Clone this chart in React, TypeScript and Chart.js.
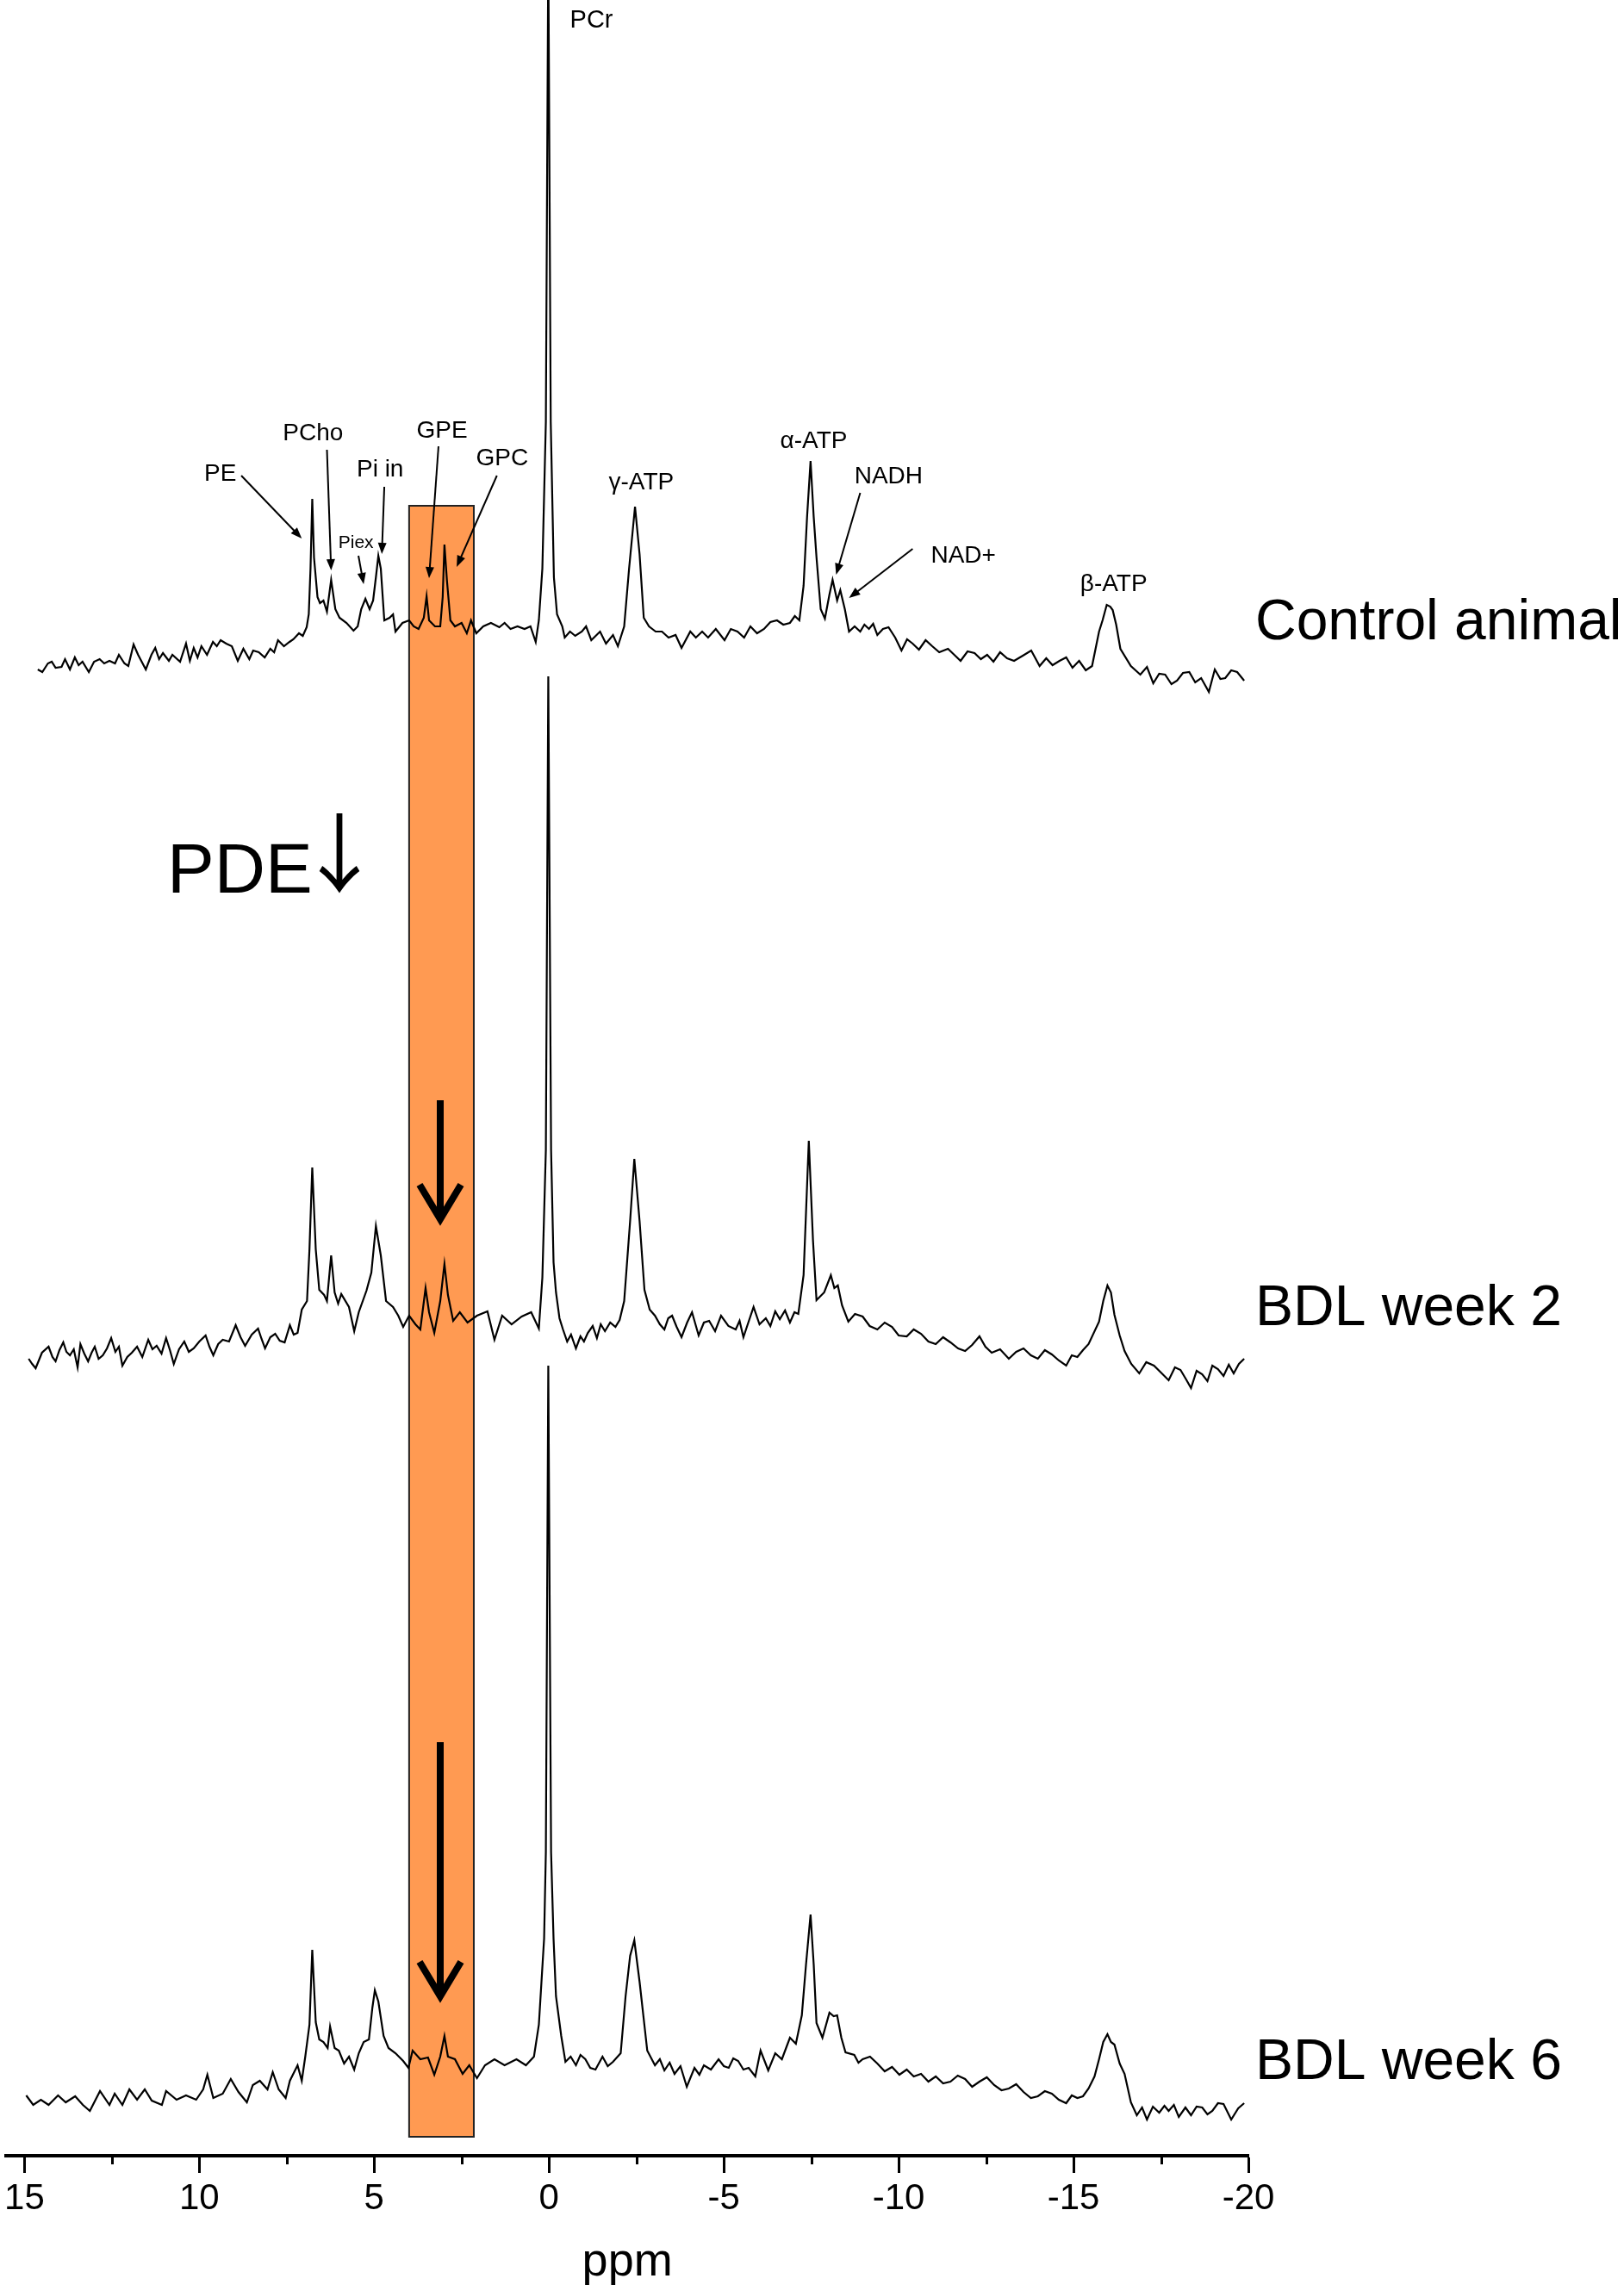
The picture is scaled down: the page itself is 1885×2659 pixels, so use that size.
import { useEffect, useRef } from 'react';
import { Chart, registerables } from 'chart.js';

Chart.register(...registerables);

const FONT = "'Liberation Sans', Arial, Helvetica, sans-serif";
const ARROW_FONT = "'Noto Sans CJK SC', 'Noto Sans CJK JP', 'DejaVu Sans', sans-serif";

// ---------- data: [chemical shift (ppm), intensity (a.u.)] ----------
const CONTROL: [number, number][] = [
  [14.62, 1.3], [14.49, 1.0], [14.33, 2.0], [14.22, 2.2], [14.11, 1.5], [13.94, 1.6], [13.84, 2.5], [13.70, 1.3],
  [13.56, 2.7], [13.45, 1.8], [13.34, 2.2], [13.16, 1.0], [13.01, 2.2], [12.85, 2.5], [12.72, 2.0], [12.57, 2.3],
  [12.41, 2.0], [12.30, 3.0], [12.14, 2.0], [12.03, 1.7], [11.88, 4.2], [11.75, 3.0], [11.53, 1.3], [11.37, 3.0],
  [11.26, 3.8], [11.15, 2.5], [11.04, 3.2], [10.87, 2.3], [10.77, 3.0], [10.55, 2.2], [10.38, 4.3], [10.27, 2.3],
  [10.16, 3.8], [10.05, 2.7], [9.94, 4.0], [9.78, 3.0], [9.61, 4.5], [9.50, 4.0], [9.39, 4.7], [9.23, 4.3],
  [9.07, 4.0], [8.90, 2.3], [8.74, 3.7], [8.57, 2.5], [8.46, 3.5], [8.30, 3.3], [8.13, 2.7], [7.97, 3.7],
  [7.86, 3.3], [7.75, 4.7], [7.58, 4.0], [7.42, 4.5], [7.31, 4.8], [7.15, 5.5], [7.04, 5.2], [6.93, 6.2],
  [6.87, 7.7], [6.82, 13.0], [6.77, 21.1], [6.72, 14.3], [6.62, 9.7], [6.55, 9.0], [6.45, 9.3], [6.35, 8.0],
  [6.23, 11.7], [6.11, 8.3], [5.99, 7.3], [5.79, 6.7], [5.59, 5.8], [5.47, 6.3], [5.37, 8.3], [5.25, 9.5],
  [5.13, 8.3], [5.03, 9.3], [4.95, 12.0], [4.88, 14.5], [4.81, 13.0], [4.71, 7.0], [4.56, 7.3], [4.46, 7.7],
  [4.39, 5.7], [4.19, 6.7], [4.00, 7.0], [3.87, 6.3], [3.73, 6.0], [3.58, 7.3], [3.50, 9.8], [3.43, 7.0],
  [3.26, 6.3], [3.11, 6.3], [3.04, 9.7], [2.99, 15.8], [2.92, 11.7], [2.82, 7.0], [2.69, 6.3], [2.50, 6.7],
  [2.35, 5.5], [2.23, 7.0], [2.08, 5.5], [1.88, 6.3], [1.66, 6.7], [1.42, 6.2], [1.27, 6.7], [1.10, 6.0],
  [0.90, 6.3], [0.70, 6.0], [0.53, 6.3], [0.38, 4.5], [0.29, 7.0], [0.19, 13.0], [0.09, 30.0], [0.02, 85.0],
  [-0.05, 30.0], [-0.14, 12.0], [-0.23, 7.7], [-0.38, 6.3], [-0.45, 5.0], [-0.60, 5.7], [-0.75, 5.2], [-0.94, 5.7],
  [-1.06, 6.3], [-1.21, 4.7], [-1.46, 5.7], [-1.63, 4.3], [-1.83, 5.3], [-1.97, 4.0], [-2.15, 6.3], [-2.29, 13.0],
  [-2.46, 20.2], [-2.59, 14.7], [-2.71, 7.3], [-2.86, 6.3], [-3.05, 5.7], [-3.23, 5.7], [-3.42, 5.0], [-3.62, 5.3],
  [-3.79, 3.8], [-4.04, 5.7], [-4.20, 5.0], [-4.38, 5.7], [-4.55, 5.0], [-4.77, 6.0], [-5.02, 4.7], [-5.20, 6.0],
  [-5.39, 5.7], [-5.58, 5.0], [-5.76, 6.3], [-5.95, 5.5], [-6.15, 6.0], [-6.33, 6.8], [-6.52, 7.0], [-6.70, 6.5],
  [-6.89, 6.7], [-7.03, 7.5], [-7.16, 7.0], [-7.28, 11.0], [-7.38, 19.0], [-7.48, 25.5], [-7.57, 19.0], [-7.65, 14.3],
  [-7.77, 8.3], [-7.89, 7.2], [-8.02, 10.0], [-8.11, 11.7], [-8.24, 9.3], [-8.33, 10.5], [-8.46, 8.3], [-8.58, 5.7],
  [-8.74, 6.3], [-8.90, 5.7], [-9.02, 6.5], [-9.15, 6.0], [-9.27, 6.6], [-9.39, 5.3], [-9.55, 6.0], [-9.71, 6.2],
  [-9.90, 5.0], [-10.08, 3.5], [-10.24, 4.8], [-10.40, 4.3], [-10.58, 3.6], [-10.77, 4.7], [-10.96, 4.0], [-11.16, 3.3],
  [-11.41, 3.7], [-11.59, 3.0], [-11.77, 2.3], [-11.97, 3.4], [-12.17, 3.2], [-12.35, 2.5], [-12.53, 3.0], [-12.71, 2.2],
  [-12.90, 3.3], [-13.10, 2.6], [-13.30, 2.3], [-13.55, 2.9], [-13.79, 3.5], [-14.03, 1.7], [-14.22, 2.6], [-14.40, 1.8],
  [-14.60, 2.3], [-14.79, 2.7], [-14.97, 1.5], [-15.16, 2.3], [-15.35, 1.2], [-15.53, 1.7], [-15.73, 5.7], [-15.83, 7.0],
  [-15.95, 8.8], [-16.05, 8.6], [-16.12, 8.2], [-16.22, 6.5], [-16.34, 3.7], [-16.64, 1.7], [-16.91, 0.7], [-17.10, 1.6],
  [-17.28, -0.3], [-17.45, 0.8], [-17.62, 0.7], [-17.80, -0.4], [-17.96, 0.0], [-18.13, 0.9], [-18.31, 1.0], [-18.48, -0.2],
  [-18.65, 0.3], [-18.87, -1.3], [-19.04, 1.3], [-19.20, 0.2], [-19.34, 0.3], [-19.51, 1.2], [-19.68, 1.0], [-19.88, 0.0],
];

const BDL_WEEK2: [number, number][] = [
  [14.88, 0.8], [14.78, 0.2], [14.68, -0.3], [14.50, 1.5], [14.31, 2.2], [14.20, 1.0], [14.11, 0.5], [14.00, 1.8],
  [13.89, 2.7], [13.80, 1.6], [13.70, 1.2], [13.59, 1.9], [13.48, -0.2], [13.40, 2.5], [13.29, 1.4], [13.18, 0.5],
  [13.08, 1.5], [12.99, 2.2], [12.88, 0.8], [12.76, 1.2], [12.64, 2.0], [12.52, 3.2], [12.40, 1.6], [12.30, 2.2],
  [12.20, 0.0], [12.06, 1.0], [11.93, 1.5], [11.78, 2.2], [11.63, 1.0], [11.46, 3.0], [11.34, 1.9], [11.22, 2.3],
  [11.08, 1.4], [10.95, 3.2], [10.84, 1.8], [10.73, 0.2], [10.58, 1.9], [10.43, 2.8], [10.30, 1.6], [10.16, 2.0],
  [10.00, 2.8], [9.82, 3.5], [9.71, 2.2], [9.60, 1.2], [9.46, 2.5], [9.33, 3.0], [9.15, 2.8], [8.96, 4.7],
  [8.82, 3.3], [8.69, 2.3], [8.50, 3.6], [8.32, 4.3], [8.22, 3.1], [8.12, 2.0], [7.97, 3.3], [7.83, 3.7],
  [7.70, 2.9], [7.56, 2.7], [7.41, 4.7], [7.30, 3.6], [7.19, 3.8],
  [7.07, 6.5], [6.92, 7.5], [6.85, 13.5], [6.77, 23.0], [6.67, 13.5], [6.57, 8.8], [6.43, 8.2], [6.35, 7.5],
  [6.23, 12.8], [6.13, 8.5], [6.03, 7.2], [5.94, 8.3], [5.72, 6.8], [5.57, 4.0], [5.44, 6.2], [5.22, 8.7],
  [5.08, 10.8], [4.95, 16.2], [4.81, 12.8], [4.66, 7.5], [4.46, 6.8], [4.31, 5.8], [4.17, 4.5], [4.00, 5.8],
  [3.82, 4.8], [3.68, 4.2], [3.53, 9.0], [3.43, 6.2], [3.28, 3.8], [3.11, 7.5], [2.99, 11.8], [2.89, 8.2],
  [2.74, 5.2], [2.55, 6.2], [2.33, 5.0], [2.06, 5.8], [1.76, 6.3], [1.56, 3.0], [1.34, 5.8], [1.07, 4.8],
  [0.78, 5.7], [0.51, 6.2], [0.29, 4.3], [0.19, 10.2], [0.09, 25.0], [0.02, 80.0], [-0.06, 25.0], [-0.13, 12.0],
  [-0.20, 8.5], [-0.30, 5.5], [-0.40, 4.2], [-0.52, 2.8], [-0.63, 3.6], [-0.77, 2.0], [-0.90, 3.4], [-1.00, 2.8],
  [-1.11, 3.8], [-1.25, 4.6], [-1.37, 3.2], [-1.48, 4.8], [-1.60, 4.0], [-1.75, 5.0], [-1.90, 4.5], [-2.02, 5.3],
  [-2.15, 7.5], [-2.32, 16.8], [-2.44, 24.0], [-2.59, 16.8], [-2.73, 8.8], [-2.88, 6.5], [-3.03, 5.8], [-3.17, 4.8],
  [-3.30, 4.2], [-3.41, 5.5], [-3.52, 5.8], [-3.65, 4.5], [-3.79, 3.3], [-3.95, 5.0], [-4.09, 6.2], [-4.28, 3.5],
  [-4.43, 5.0], [-4.58, 5.2], [-4.75, 4.0], [-4.92, 5.8], [-5.13, 4.6], [-5.34, 4.2], [-5.45, 5.2], [-5.56, 3.3],
  [-5.70, 5.0], [-5.85, 6.8], [-6.02, 4.8], [-6.20, 5.5], [-6.33, 4.6], [-6.47, 6.3], [-6.60, 5.4], [-6.75, 6.4],
  [-6.89, 5.0], [-7.02, 6.2], [-7.13, 6.0], [-7.28, 10.5], [-7.43, 26.1], [-7.55, 14.5], [-7.65, 7.6], [-7.87, 8.5],
  [-8.06, 10.5], [-8.16, 9.0], [-8.26, 9.3], [-8.38, 7.0], [-8.56, 5.1], [-8.75, 6.0], [-8.97, 5.7], [-9.17, 4.6],
  [-9.39, 4.2], [-9.60, 5.0], [-9.81, 4.5], [-10.00, 3.5], [-10.23, 3.4], [-10.43, 4.2], [-10.64, 3.7], [-10.85, 2.8],
  [-11.06, 2.5], [-11.27, 3.3], [-11.48, 2.7], [-11.70, 2.0], [-11.90, 1.7], [-12.10, 2.4], [-12.31, 3.4], [-12.48, 2.2],
  [-12.66, 1.5], [-12.90, 1.9], [-13.15, 0.8], [-13.36, 1.6], [-13.57, 2.0], [-13.78, 1.2], [-13.98, 0.8], [-14.18, 1.8],
  [-14.38, 1.3], [-14.58, 0.6], [-14.79, 0.0], [-14.95, 1.2], [-15.11, 1.0], [-15.27, 1.8], [-15.43, 2.5], [-15.73, 5.1],
  [-15.85, 7.5], [-15.97, 9.3], [-16.07, 8.5], [-16.17, 5.9], [-16.32, 3.5], [-16.46, 1.7], [-16.65, 0.2], [-16.88, -0.9],
  [-17.08, 0.4], [-17.30, 0.0], [-17.50, -0.8], [-17.72, -1.7], [-17.90, -0.2], [-18.06, -0.5], [-18.22, -1.6], [-18.36, -2.6],
  [-18.52, -0.6], [-18.68, -1.0], [-18.83, -1.8], [-18.97, 0.0], [-19.13, -0.4], [-19.29, -1.2], [-19.44, 0.1], [-19.58, -0.9],
  [-19.73, 0.2], [-19.88, 0.8],
];

const BDL_WEEK6: [number, number][] = [
  [14.95, 1.8], [14.75, 0.7], [14.53, 1.3], [14.31, 0.7], [14.04, 1.8], [13.82, 1.0], [13.55, 1.7], [13.33, 0.7],
  [13.13, 0.0], [12.84, 2.3], [12.57, 0.7], [12.42, 2.0], [12.20, 0.7], [12.00, 2.5], [11.78, 1.3], [11.56, 2.5],
  [11.36, 1.2], [11.07, 0.7], [10.95, 2.3], [10.65, 1.3], [10.38, 1.8], [10.09, 1.3], [9.89, 2.5], [9.77, 4.2],
  [9.60, 1.5], [9.33, 2.0], [9.10, 3.7], [8.88, 2.2], [8.64, 1.0], [8.47, 3.0], [8.27, 3.5], [8.05, 2.5],
  [7.90, 4.5], [7.73, 2.5], [7.53, 1.5], [7.41, 3.5], [7.19, 5.3], [7.07, 3.5], [6.97, 6.3], [6.85, 10.0],
  [6.77, 18.7], [6.67, 10.3], [6.57, 8.3], [6.45, 8.0], [6.33, 7.3], [6.26, 9.8], [6.13, 7.3], [6.01, 7.0],
  [5.86, 5.5], [5.72, 6.3], [5.57, 4.8], [5.44, 6.7], [5.30, 8.0], [5.15, 8.3], [5.05, 12.0], [4.98, 14.0],
  [4.88, 12.7], [4.73, 8.7], [4.59, 7.3], [4.39, 6.7], [4.17, 5.8], [4.02, 5.0], [3.90, 7.0], [3.68, 6.0],
  [3.46, 6.2], [3.28, 4.2], [3.11, 6.3], [2.99, 8.7], [2.89, 6.3], [2.69, 6.0], [2.47, 4.3], [2.28, 5.3],
  [2.06, 3.8], [1.83, 5.3], [1.56, 6.0], [1.27, 5.3], [0.93, 6.0], [0.66, 5.3], [0.43, 6.3], [0.29, 10.0],
  [0.14, 20.0], [0.09, 30.0], [0.02, 86.5], [-0.06, 30.0], [-0.13, 20.0], [-0.20, 13.3], [-0.35, 8.7], [-0.47, 5.7],
  [-0.62, 6.3], [-0.77, 5.3], [-0.90, 6.5], [-1.04, 6.0], [-1.18, 5.0], [-1.33, 4.8], [-1.53, 6.3], [-1.68, 5.2],
  [-1.83, 5.7], [-2.05, 6.7], [-2.19, 13.3], [-2.32, 18.0], [-2.44, 19.8], [-2.59, 15.0], [-2.81, 7.0], [-3.03, 5.3],
  [-3.17, 6.0], [-3.30, 4.7], [-3.45, 5.6], [-3.59, 4.3], [-3.76, 5.2], [-3.94, 2.8], [-4.16, 5.0], [-4.30, 4.2],
  [-4.43, 5.3], [-4.63, 4.8], [-4.85, 6.0], [-5.00, 5.2], [-5.14, 5.0], [-5.27, 6.1], [-5.41, 5.8], [-5.56, 4.8],
  [-5.71, 5.0], [-5.90, 4.0], [-6.05, 7.0], [-6.27, 4.7], [-6.47, 6.7], [-6.66, 6.0], [-6.89, 8.5], [-7.06, 7.8],
  [-7.23, 11.1], [-7.35, 17.0], [-7.48, 22.8], [-7.57, 17.0], [-7.65, 10.2], [-7.82, 8.5], [-8.02, 11.4], [-8.14, 11.0],
  [-8.24, 11.1], [-8.36, 8.5], [-8.48, 6.8], [-8.73, 6.5], [-8.85, 5.6], [-8.97, 6.0], [-9.18, 6.3], [-9.39, 5.5],
  [-9.60, 4.6], [-9.81, 5.1], [-10.02, 4.2], [-10.23, 4.8], [-10.43, 4.0], [-10.64, 4.3], [-10.85, 3.4], [-11.06, 4.0],
  [-11.27, 3.2], [-11.48, 3.4], [-11.69, 4.1], [-11.90, 3.7], [-12.10, 2.8], [-12.31, 3.4], [-12.52, 3.9], [-12.73, 3.0],
  [-12.94, 2.4], [-13.15, 2.6], [-13.36, 3.1], [-13.57, 2.2], [-13.78, 1.5], [-13.98, 1.7], [-14.18, 2.3], [-14.38, 2.0],
  [-14.58, 1.3], [-14.79, 0.9], [-14.95, 1.8], [-15.11, 1.5], [-15.27, 1.7], [-15.43, 2.6], [-15.60, 4.0], [-15.73, 6.0],
  [-15.85, 8.0], [-15.97, 8.9], [-16.07, 8.0], [-16.17, 7.7], [-16.32, 5.5], [-16.46, 4.3], [-16.64, 1.0], [-16.81, -0.5],
  [-16.96, 0.4], [-17.10, -1.0], [-17.27, 0.5], [-17.45, -0.2], [-17.60, 0.6], [-17.72, 0.0], [-17.87, 0.7], [-18.01, -0.7],
  [-18.20, 0.4], [-18.36, -0.5], [-18.52, 0.5], [-18.68, 0.4], [-18.83, -0.4], [-18.97, 0.0], [-19.13, 0.9], [-19.29, 0.8],
  [-19.51, -1.0], [-19.71, 0.3], [-19.88, 0.9],
];

const SPECTRA = [CONTROL, BDL_WEEK2, BDL_WEEK6];
const SPECTRUM_NAMES = ['Control animal', 'BDL week 2', 'BDL week 6'];
const SPECTRUM_OFFSETS = [171.2, 91.7, 5.2]; // vertical stacking offset (a.u.)
const NAME_BASELINES = [176.0, 96.4, 8.9];

const X_TICKS = [15, 10, 5, 0, -5, -10, -15, -20];
const X_MINOR_TICKS = [12.5, 7.5, 2.5, -2.5, -7.5, -12.5, -17.5];

const PEAK_LABELS = [
  { text: 'PCr', ppm: -0.6, y: 247.8, size: 29, align: 'left' },
  { text: 'PE', ppm: 9.4, y: 195.2, size: 28, align: 'center' },
  { text: 'PCho', ppm: 6.75, y: 199.9, size: 28, align: 'center' },
  { text: 'Piex', ppm: 5.52, y: 187.2, size: 21, align: 'center' },
  { text: 'Pi in', ppm: 4.83, y: 195.7, size: 28, align: 'center' },
  { text: 'GPE', ppm: 3.06, y: 200.2, size: 28, align: 'center' },
  { text: 'GPC', ppm: 1.34, y: 197.0, size: 28, align: 'center' },
  { text: 'γ-ATP', ppm: -2.64, y: 194.2, size: 28, align: 'center' },
  { text: 'α-ATP', ppm: -7.57, y: 199.0, size: 28, align: 'center' },
  { text: 'NADH', ppm: -9.71, y: 194.9, size: 28, align: 'center' },
  { text: 'NAD+', ppm: -11.85, y: 185.7, size: 28, align: 'center' },
  { text: 'β-ATP', ppm: -16.15, y: 182.4, size: 28, align: 'center' },
];

const PEAK_ARROWS = [
  { from: [8.8, 195.0], to: [7.07, 187.7] },
  { from: [6.35, 198.0], to: [6.23, 184.0] },
  { from: [5.45, 185.7], to: [5.3, 182.4] },
  { from: [4.71, 193.7], to: [4.78, 185.9] },
  { from: [3.16, 198.4], to: [3.43, 183.1] },
  { from: [1.49, 195.0], to: [2.64, 184.4] },
  { from: [-8.9, 193.0], to: [-8.21, 183.5] },
  { from: [-10.4, 186.5], to: [-8.58, 180.8] },
];

const PDE_BAND = { from: 4.0, to: 2.15, top: 191.5, bottom: 2.2 };
const PDE_ARROWS = [
  { ppm: 3.11, top: 122.5, tip: 107.9 },
  { ppm: 3.11, top: 48.0, tip: 17.7 },
];
const PDE_TEXT = { text: 'PDE', ppm: 10.92, y: 146.6, size: 82 };
const PDE_SYMBOL = { text: '↓', ppm: 5.99, y: 147.4, size: 100 };

// ---------- drawing helpers ----------
function drawSmallArrow(ctx: CanvasRenderingContext2D, x1: number, y1: number, x2: number, y2: number) {
  const headLen = 13;
  const headW = 5;
  const ang = Math.atan2(y2 - y1, x2 - x1);
  const c = Math.cos(ang);
  const s = Math.sin(ang);
  ctx.beginPath();
  ctx.moveTo(x1, y1);
  ctx.lineTo(x2 - headLen * 0.7 * c, y2 - headLen * 0.7 * s);
  ctx.stroke();
  ctx.beginPath();
  ctx.moveTo(x2, y2);
  ctx.lineTo(x2 - headLen * c + headW * s, y2 - headLen * s - headW * c);
  ctx.lineTo(x2 - headLen * c - headW * s, y2 - headLen * s + headW * c);
  ctx.closePath();
  ctx.fill();
}

const annotationPlugin = {
  id: 'spectrumAnnotations',
  beforeDatasetsDraw(chart: any) {
    const { ctx, scales } = chart;
    const x = scales.x;
    const y = scales.y;
    const x1 = x.getPixelForValue(PDE_BAND.from);
    const x2 = x.getPixelForValue(PDE_BAND.to);
    const y1 = y.getPixelForValue(PDE_BAND.top);
    const y2 = y.getPixelForValue(PDE_BAND.bottom);
    ctx.save();
    ctx.fillStyle = '#FF9A52';
    ctx.fillRect(x1, y1, x2 - x1, y2 - y1);
    ctx.strokeStyle = '#222';
    ctx.lineWidth = 2;
    ctx.strokeRect(x1, y1, x2 - x1, y2 - y1);
    ctx.restore();
  },
  afterDatasetsDraw(chart: any) {
    const { ctx, scales } = chart;
    const x = scales.x;
    const y = scales.y;
    ctx.save();
    ctx.fillStyle = '#000';
    ctx.strokeStyle = '#000';

    // peak labels
    ctx.textBaseline = 'middle';
    PEAK_LABELS.forEach((l) => {
      ctx.font = `${l.size}px ${FONT}`;
      ctx.textAlign = l.align as CanvasTextAlign;
      ctx.fillText(l.text, x.getPixelForValue(l.ppm), y.getPixelForValue(l.y));
    });

    // pointer arrows
    ctx.lineWidth = 2;
    PEAK_ARROWS.forEach((a) => {
      drawSmallArrow(
        ctx,
        x.getPixelForValue(a.from[0]), y.getPixelForValue(a.from[1]),
        x.getPixelForValue(a.to[0]), y.getPixelForValue(a.to[1]),
      );
    });

    // big PDE arrows
    PDE_ARROWS.forEach((a) => {
      const px = x.getPixelForValue(a.ppm);
      const top = y.getPixelForValue(a.top);
      const tip = y.getPixelForValue(a.tip);
      ctx.lineWidth = 8;
      ctx.lineCap = 'butt';
      ctx.beginPath();
      ctx.moveTo(px, top);
      ctx.lineTo(px, tip - 10);
      ctx.stroke();
      ctx.lineJoin = 'miter';
      ctx.beginPath();
      ctx.moveTo(px - 24, tip - 48);
      ctx.lineTo(px, tip - 8);
      ctx.lineTo(px + 24, tip - 48);
      ctx.stroke();
    });

    // PDE text
    ctx.textAlign = 'left';
    ctx.textBaseline = 'alphabetic';
    ctx.font = `${PDE_TEXT.size}px ${FONT}`;
    ctx.fillText(PDE_TEXT.text, x.getPixelForValue(PDE_TEXT.ppm), y.getPixelForValue(PDE_TEXT.y));
    ctx.textAlign = 'center';
    ctx.font = `${PDE_SYMBOL.size}px ${ARROW_FONT}`;
    ctx.fillText(PDE_SYMBOL.text, x.getPixelForValue(PDE_SYMBOL.ppm), y.getPixelForValue(PDE_SYMBOL.y));

    // spectrum names
    ctx.textAlign = 'left';
    ctx.font = `66px ${FONT}`;
    SPECTRUM_NAMES.forEach((name, i) => {
      ctx.fillText(name, chart.chartArea.right + 8, y.getPixelForValue(NAME_BASELINES[i]));
    });
    ctx.restore();
  },
  afterDraw(chart: any) {
    const { ctx, scales, chartArea } = chart;
    const x = scales.x;
    ctx.save();
    ctx.strokeStyle = '#000';
    ctx.lineWidth = 3;
    X_MINOR_TICKS.forEach((v) => {
      const px = Math.round(x.getPixelForValue(v)) + 0.5;
      ctx.beginPath();
      ctx.moveTo(px, chartArea.bottom);
      ctx.lineTo(px, chartArea.bottom + 10);
      ctx.stroke();
    });
    ctx.restore();
  },
};

export default function App() {
  const canvasRef = useRef<HTMLCanvasElement>(null);

  useEffect(() => {
    const canvas = canvasRef.current;
    if (!canvas) return;
    const datasets = SPECTRA.map((spec, i) => ({
      label: SPECTRUM_NAMES[i],
      data: spec.map(([ppm, v]) => ({ x: ppm, y: v + SPECTRUM_OFFSETS[i] })),
      borderColor: '#000',
      borderWidth: 2.2,
      pointRadius: 0,
      tension: 0,
      fill: false,
    }));
    const chart = new Chart(canvas, {
      type: 'line',
      data: { datasets },
      plugins: [annotationPlugin],
      options: {
        animation: false,
        responsive: false,
        events: [],
        layout: { padding: { left: 3, right: 436, top: 0, bottom: 0 } },
        plugins: { legend: { display: false }, tooltip: { enabled: false } },
        scales: {
          x: {
            type: 'linear',
            reverse: true,
            min: -20,
            max: 15.52,
            afterBuildTicks: (scale: any) => {
              scale.ticks = X_TICKS.map((v) => ({ value: v }));
            },
            afterFit: (scale: any) => {
              scale.height = 157;
            },
            grid: {
              drawOnChartArea: false,
              drawTicks: true,
              tickLength: 20,
              tickWidth: 3,
              tickColor: '#000',
            },
            border: { display: true, color: '#000', width: 4 },
            ticks: {
              color: '#000',
              font: { family: FONT, size: 42 },
              padding: 5,
              maxRotation: 0,
              autoSkip: false,
              callback: (v: any) => String(v),
            },
            title: {
              display: true,
              text: 'ppm',
              color: '#000',
              font: { family: FONT, size: 54 },
              padding: { top: 0, bottom: 0 },
            },
          },
          y: { type: 'linear', display: false, min: 0, max: 250.2 },
        },
      } as any,
    });
    return () => chart.destroy();
  }, []);

  return (
    <div style={{ position: 'absolute', left: 0, top: 0, width: 1885, height: 2659, background: '#fff' }}>
      <canvas ref={canvasRef} width={1885} height={2659} style={{ display: 'block', width: 1885, height: 2659 }} />
    </div>
  );
}
